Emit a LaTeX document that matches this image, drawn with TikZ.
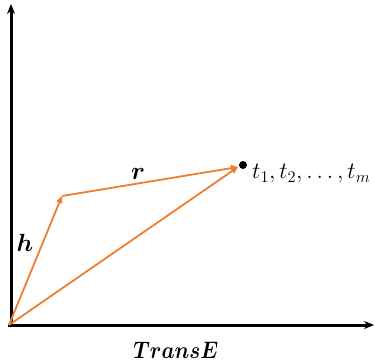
\documentclass[tikz,border=0pt]{standalone}
\usepackage{amsmath}
\usetikzlibrary{arrows.meta}
\definecolor{vecorange}{HTML}{ED7D31}
\begin{document}
\begin{tikzpicture}[x=1pt,y=-1pt,
  axis/.style={line width=3pt,-{Stealth[length=10pt,width=8pt]}},
  vec/.style={vecorange,line width=1.8pt,-{Triangle[length=7pt,width=6pt]}},
  lbl/.style={inner sep=0pt,font=\fontsize{20.74}{25}\selectfont}]
\useasboundingbox (0,0) rectangle (375,364);
\coordinate (O) at (9,325);
\coordinate (Y) at (11,4);
\coordinate (X) at (374,325);
\coordinate (H) at (62,196);
\coordinate (T) at (238,167);
\draw[axis] (11,326.5) -- (Y);
\draw[axis] (8,325) -- (X);
\draw[vec] (O) -- (H);
\draw[vec] (H) -- (T);
\draw[vec] (O) -- (T);
\fill (243,165) circle (4pt);
\node[lbl,font=\fontsize{24.88}{28}\selectfont] (hl) at (25,243) {$\boldsymbol{h}$};
\node[lbl,font=\fontsize{24.88}{28}\selectfont] (rl) at (138,174) {$\boldsymbol{r}$};
\node[lbl,anchor=west,scale=1.13] (tl) at (252,174) {$t_1,t_2,\dots,t_m$};
\node[lbl,yscale=1.15] (te) at (176,350) {$\boldsymbol{TransE}$};
\end{tikzpicture}
\end{document}
